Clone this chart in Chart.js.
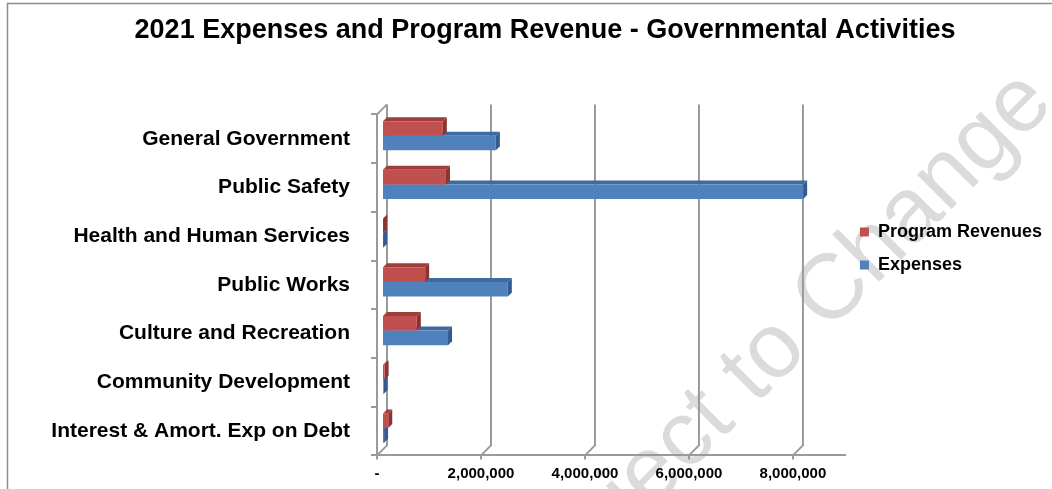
<!DOCTYPE html>
<html>
<head>
<meta charset="utf-8">
<script src="https://cdn.jsdelivr.net/npm/chart.js@4.4.1/dist/chart.umd.min.js"></script>
<style>
  html, body { margin: 0; padding: 0; background: #fff; }
  #wrap { position: relative; width: 1052px; height: 489px; }
</style>
</head>
<body>
<div id="wrap"><canvas id="chart"></canvas></div>
<script>
// ---- data ----
const categories = [
  "General Government",
  "Public Safety",
  "Health and Human Services",
  "Public Works",
  "Culture and Recreation",
  "Community Development",
  "Interest & Amort. Exp on Debt"
];
const programRevenues = [1170000, 1230000, 20000, 830000, 670000, 50000, 120000];
const expenses        = [2190000, 8100000, 20000, 2420000, 1270000, 30000, 40000];
const xTicks = [0, 2000000, 4000000, 6000000, 8000000];
const xMax = 9000000;

const FONT = "'Liberation Sans', Arial, sans-serif";
const GRID = "#9a9a9a";

// 3D look: back wall offset, bar offset, bar face depth
const wall = { dx: 10, dy: -10 };
const shift = { dx: 5, dy: -3 };
const face = 4;

const look3d = {
  id: "look3d",
  beforeDraw(chart) {
    const ctx = chart.ctx;
    ctx.save();
    ctx.fillStyle = "#fff";
    ctx.fillRect(0, 0, chart.width, chart.height);
    // watermark
    ctx.translate(770, 355);
    ctx.rotate(-45 * Math.PI / 180);
    ctx.font = "92px " + FONT;
    ctx.fillStyle = "rgba(0,0,0,0.14)";
    ctx.textAlign = "center";
    ctx.textBaseline = "middle";
    ctx.fillText("Subject to Change", 0, 0);
    ctx.restore();
    // outer frame
    ctx.save();
    ctx.strokeStyle = "#8c8c8c";
    ctx.lineWidth = 1.5;
    ctx.strokeRect(7.5, 3.5, 1300, 700);
    ctx.restore();
  },
  beforeDatasetsDraw(chart) {
    const { ctx, chartArea: a, scales: { x } } = chart;
    ctx.save();
    ctx.strokeStyle = GRID;
    ctx.lineWidth = 2;
    x.ticks.forEach(t => {
      const px = x.getPixelForValue(t.value);
      ctx.beginPath();
      ctx.moveTo(px, a.bottom);
      ctx.lineTo(px + wall.dx, a.bottom + wall.dy);
      ctx.lineTo(px + wall.dx, a.top + wall.dy);
      ctx.stroke();
    });
    ctx.beginPath();
    ctx.moveTo(a.left, a.top);
    ctx.lineTo(a.left + wall.dx, a.top + wall.dy);
    ctx.stroke();

    // top and side faces of the bars (drawn under the fronts)
    ctx.translate(shift.dx, shift.dy);
    for (let i = chart.data.datasets.length - 1; i >= 0; i--) {
      const ds = chart.data.datasets[i];
      chart.getDatasetMeta(i).data.forEach(bar => {
        const top = bar.y - bar.height / 2;
        const bottom = bar.y + bar.height / 2;
        ctx.fillStyle = ds.topColor;
        ctx.beginPath();
        ctx.moveTo(bar.base, top);
        ctx.lineTo(bar.base + face, top - face);
        ctx.lineTo(bar.x + face, top - face);
        ctx.lineTo(bar.x, top);
        ctx.closePath();
        ctx.fill();
        ctx.fillStyle = ds.sideColor;
        ctx.beginPath();
        ctx.moveTo(bar.x, top);
        ctx.lineTo(bar.x + face, top - face);
        ctx.lineTo(bar.x + face, bottom - face);
        ctx.lineTo(bar.x, bottom);
        ctx.closePath();
        ctx.fill();
      });
    }
    ctx.restore();
    ctx.save();
    ctx.translate(shift.dx, shift.dy);
  },
  afterDatasetsDraw(chart) {
    chart.ctx.restore();
  }
};

new Chart(document.getElementById("chart"), {
  type: "bar",
  data: {
    labels: categories,
    datasets: [
      {
        label: "Program Revenues",
        data: programRevenues,
        backgroundColor: "#C0504D",
        topColor: "#9E3D3A",
        sideColor: "#8A3330",
        borderWidth: 0,
        categoryPercentage: 0.6,
        barPercentage: 1.0
      },
      {
        label: "Expenses",
        data: expenses,
        backgroundColor: "#4F81BD",
        topColor: "#3D6AA0",
        sideColor: "#335C8D",
        borderWidth: 0,
        categoryPercentage: 0.6,
        barPercentage: 1.0
      }
    ]
  },
  options: {
    indexAxis: "y",
    responsive: true,
    maintainAspectRatio: false,
    animation: false,
    layout: { padding: { left: 38, top: 8, right: 0, bottom: 0 } },
    plugins: {
      title: {
        display: true,
        text: "2021 Expenses and Program Revenue - Governmental Activities",
        color: "#000",
        font: { family: FONT, size: 27, weight: "bold" },
        padding: { top: 6, bottom: 68 }
      },
      legend: {
        position: "right",
        labels: {
          color: "#000",
          font: { family: FONT, size: 18, weight: "bold" },
          boxWidth: 9,
          boxHeight: 9,
          padding: 15
        }
      },
      tooltip: { enabled: false }
    },
    scales: {
      x: {
        type: "linear",
        min: 0,
        max: xMax,
        afterBuildTicks(scale) {
          scale.ticks = xTicks.map(v => ({ value: v }));
        },
        ticks: {
          color: "#000",
          font: { family: FONT, size: 15, weight: "bold" },
          padding: 5,
          maxRotation: 0,
          callback: v => (v === 0 ? "-" : v.toLocaleString("en-US"))
        },
        grid: { drawOnChartArea: false, color: GRID, tickLength: 4, lineWidth: 2 },
        border: { color: GRID, width: 2 }
      },
      y: {
        afterFit(scale) {
          scale.width = 339;
        },
        ticks: {
          color: "#000",
          font: { family: FONT, size: 21, weight: "bold" },
          padding: 21
        },
        grid: { drawOnChartArea: false, color: GRID, tickLength: 6, lineWidth: 2 },
        border: { color: GRID, width: 2 }
      }
    }
  },
  plugins: [look3d]
});
</script>
</body>
</html>
